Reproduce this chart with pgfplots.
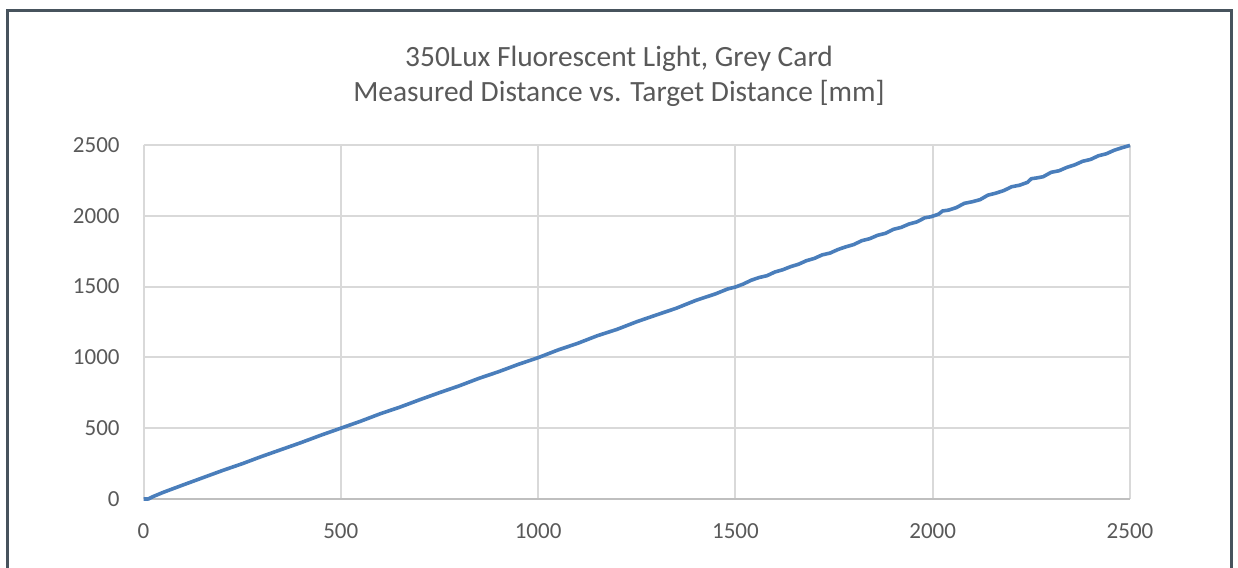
\documentclass[border=0pt]{standalone}
\usepackage{pgfplots}
\pgfplotsset{compat=1.18}
\usepackage{fontspec}
\setmainfont{Carlito}
\definecolor{framec}{HTML}{47535D}
\definecolor{txt}{HTML}{595959}
\definecolor{gridc}{HTML}{D9D9D9}
\definecolor{axc}{HTML}{BFBFBF}
\definecolor{linec}{HTML}{4A7EBB}
\begin{document}
\begin{tikzpicture}
\path[use as bounding box] (0,0) rectangle (619pt,284pt);
\draw[framec, line width=1.65pt] (3.85pt,-3pt) -- (3.85pt,278.65pt) -- (615.85pt,278.65pt) -- (615.85pt,-3pt);
\node[anchor=base, text=txt, font=\fontsize{14.7}{17}\selectfont] at (309.5pt,250.5pt) {350Lux Fluorescent Light, Grey Card};
\node[anchor=base, text=txt, font=\fontsize{14.7}{17}\selectfont] at (309.5pt,233pt) {Measured Distance vs. Target Distance [mm]};
\begin{axis}[
  at={(71.75pt,34.5pt)}, anchor=south west,
  scale only axis, width=493.25pt, height=177pt,
  xmin=0, xmax=2500, ymin=0, ymax=2500,
  xtick={0,500,...,2500}, ytick={0,500,...,2500},
  axis x line*=bottom, axis y line*=left,
  x axis line style={draw=axc, line width=1pt, -},
  y axis line style={draw=none},
  tick style={draw=none},
  major tick length=0pt,
  grid=major,
  major grid style={draw=gridc, line width=1pt},
  /pgf/number format/assume math mode=true,
  /pgf/number format/1000 sep={},
  ticklabel style={text=txt, font=\fontsize{11.5}{13}\selectfont, inner sep=0pt},
  xticklabel style={anchor=north, yshift=-12pt},
  yticklabel style={anchor=east, xshift=-11.75pt},
  clip=false,
]
\addplot[linec, line width=1.8pt, line join=round] coordinates {
(0,0) (12,0) (25,18) (50,47) (75,73) (100,99) (150,150) (200,201) (250,249)
(300,301) (350,350) (400,399) (450,451) (500,500) (550,549) (600,602) (650,649)
(700,701) (750,751) (800,799) (850,852) (900,899) (950,951) (1000,998) (1050,1052)
(1100,1099) (1150,1153) (1200,1198) (1250,1252) (1300,1300) (1350,1347) (1400,1403)
(1450,1449) (1480,1483) (1500,1497) (1520,1518) (1540,1545) (1560,1564) (1580,1577)
(1600,1603) (1620,1619) (1640,1641) (1660,1658) (1680,1683) (1700,1699) (1720,1724)
(1740,1737) (1760,1762) (1780,1781) (1800,1797) (1820,1824) (1840,1838) (1860,1862)
(1880,1876) (1900,1904) (1920,1918) (1940,1942) (1960,1957) (1980,1986) (1995,1993)
(2005,2002) (2015,2012) (2025,2034) (2040,2040) (2060,2058) (2080,2088) (2100,2099)
(2120,2114) (2140,2146) (2160,2160) (2180,2178) (2200,2205) (2220,2216) (2240,2236)
(2250,2262) (2265,2268) (2280,2276) (2300,2307) (2320,2318) (2340,2342) (2360,2360)
(2380,2385) (2400,2398) (2420,2424) (2440,2438) (2460,2463) (2480,2481) (2500,2497)
};
\end{axis}
\end{tikzpicture}
\end{document}
